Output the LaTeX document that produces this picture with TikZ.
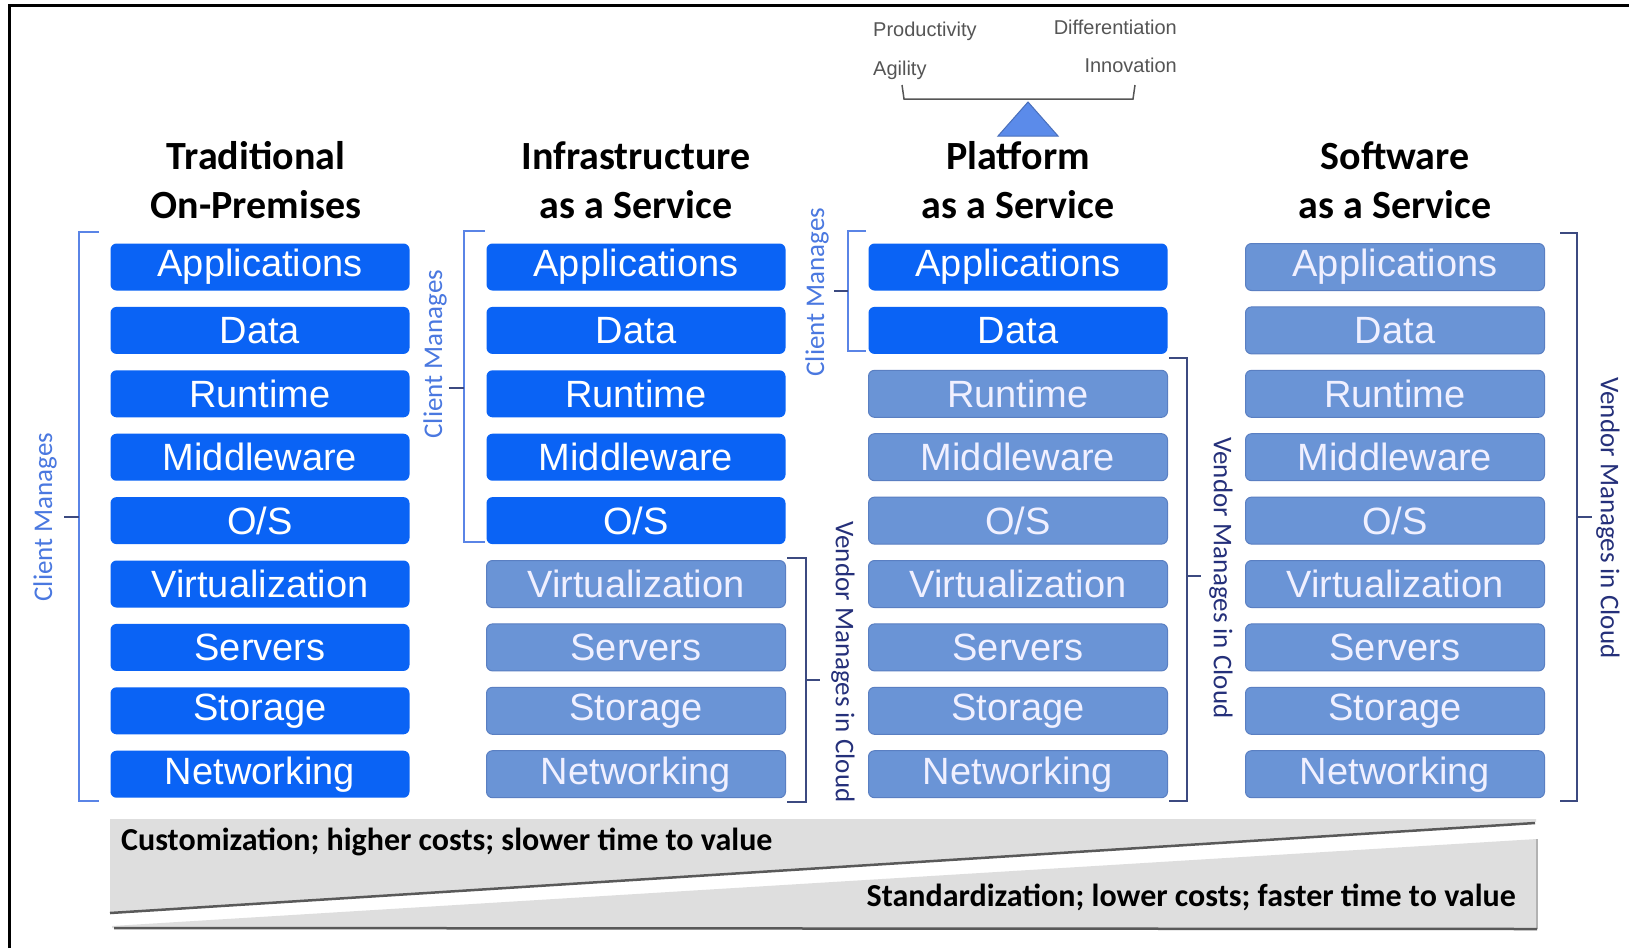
\documentclass[tikz,border=0pt]{standalone}
\usepackage{fontspec}
\setmainfont{Carlito}
\newfontfamily\boxfont{Liberation Sans}
\definecolor{cblue}{HTML}{0A63F5}
\definecolor{vblue}{HTML}{6A94D6}
\definecolor{vedge}{HTML}{5A7FC2}
\definecolor{clab}{HTML}{4A78E0}
\definecolor{cbr}{HTML}{5A84E6}
\definecolor{vlab}{HTML}{25307A}
\definecolor{vbr}{HTML}{3C4A80}
\definecolor{band}{HTML}{DEDEDE}
\definecolor{topgray}{HTML}{555555}
\definecolor{tri}{HTML}{5B8BEA}
\tikzset{
  layer/.style={rectangle, rounded corners=6pt, minimum width=299pt, minimum height=47pt, inner sep=0pt,
    font=\boxfont\fontsize{38}{42}\selectfont},
  cbox/.style={layer, fill=cblue, text=white},
  vbox/.style={layer, fill=vblue, draw=vedge, line width=1pt, text=white!94!blue},
  head/.style={align=center, font=\bfseries\fontsize{40}{49}\selectfont, text=black},
  clientlab/.style={rotate=90, text=clab, font=\fontsize{27}{30}\selectfont},
  vendorlab/.style={rotate=-90, text=vlab, font=\fontsize{27}{30}\selectfont},
  cbrack/.style={draw=cbr, line width=2.5pt},
  vbrack/.style={draw=vbr, line width=2pt},
  midtick/.style={draw=vbr, line width=1.5pt},
  topword/.style={text=topgray, font=\boxfont\fontsize{20}{22}\selectfont, inner sep=0pt},
  bandtext/.style={font=\bfseries\fontsize{32}{34}\selectfont, text=black, inner sep=0pt}
}
\begin{document}
\begin{tikzpicture}[x=1pt,y=-1pt]
\useasboundingbox (0,0) rectangle (1629,948);
\fill[white] (0,0) rectangle (1629,948);
% frame
\draw[line width=3pt] (9,948) -- (9,5) -- (1629,5);

% headers
\node[head] (h1) at (256,180) {Traditional\\On-Premises};
\node[head] (h2) at (636,180) {Infrastructure\\as a Service};
\node[head] (h3) at (1018,180) {Platform\\as a Service};
\node[head] (h4) at (1395,180) {Software\\as a Service};

% layer boxes
\foreach \c/\x/\n in {1/260/9, 2/636/5, 3/1018/2, 4/1395/0} {
  \foreach \lab [count=\i] in {Applications,Data,Runtime,Middleware,O/S,Virtualization,Servers,Storage,Networking} {
    \ifnum\i>\n \def\st{vbox}\else\def\st{cbox}\fi
    \node[\st] (b\c-\i) at (\x,{267+63.4*(\i-1)}) {\lab};
  }
}

% column 1 client bracket
\draw[cbrack] (99,232) -- (79,232) -- (79,801) -- (99,801);
\draw[midtick] (79,517) -- (64,517);
\node[clientlab] (l1) at (45,517) {Client Manages};

% column 2 client bracket
\draw[cbrack] (485,231) -- (464,231) -- (464,542) -- (485,542);
\draw[midtick] (464,388) -- (449,388);
\node[clientlab] (l2) at (435,354) {Client Manages};

% column 2 vendor bracket
\draw[vbrack] (787,558) -- (806,558) -- (806,802) -- (787,802);
\draw[midtick] (806,680) -- (820,680);
\node[vendorlab] (l3) at (843,662) {Vendor Manages in Cloud};

% column 3 client bracket
\draw[cbrack] (866,231) -- (848,231) -- (848,351) -- (866,351);
\draw[midtick] (848,291) -- (834,291);
\node[clientlab] (l4) at (817,292) {Client Manages};

% column 3 vendor bracket
\draw[vbrack] (1169,358) -- (1187,358) -- (1187,801) -- (1169,801);
\draw[midtick] (1187,576) -- (1201,576);
\node[vendorlab] (l5) at (1221,578) {Vendor Manages in Cloud};

% column 4 vendor bracket
\draw[vbrack] (1560,233) -- (1577,233) -- (1577,801) -- (1560,801);
\draw[midtick] (1577,517) -- (1592,517);
\node[vendorlab] (l6) at (1608,518) {Vendor Manages in Cloud};

% balance at top
\node[topword, anchor=west] (w1) at (873,31) {Productivity};
\node[topword, anchor=east] (w2) at (1177,27) {Differentiation};
\node[topword, anchor=west] (w3) at (873,70) {Agility};
\node[topword, anchor=east] (w4) at (1177,65) {Innovation};
\draw[topgray, line width=1.5pt] (902,85) -- (904,99) -- (1133,99) -- (1135,85);
\draw[fill=tri, draw=tri!80!black, line width=1pt] (1028,102) -- (1058,136) -- (998,136) -- cycle;

% bottom wedges
\fill[band] (110,819) -- (1536,819) -- (1536,822) -- (110,914) -- cycle;
\draw[gray!70!black, line width=2.5pt] (110,913) -- (1535,823);
\fill[band] (112,926) -- (1537,839) -- (1537,928) -- (112,928) -- cycle;
\draw[gray!60, line width=1.5pt] (1537,839) -- (1537,929);
\draw[gray!70!black, line width=2.5pt] (114,928) -- (1537,929);
\node[bandtext, anchor=west] (t1) at (121,842) {Customization; higher costs; slower time to value};
\node[bandtext, anchor=east] (t2) at (1516,897) {Standardization; lower costs; faster time to value};
\end{tikzpicture}
\end{document}
